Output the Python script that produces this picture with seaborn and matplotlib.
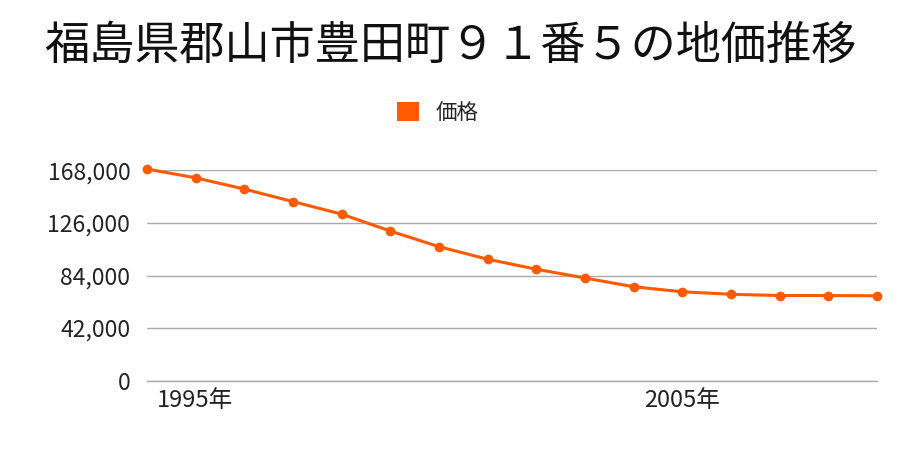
import matplotlib
matplotlib.use("Agg")
import matplotlib.pyplot as plt
import matplotlib.transforms as mtrans
import seaborn as sns
import pandas as pd
from matplotlib.ticker import FuncFormatter
from matplotlib.patches import Patch

title = "福島県郡山市豊田町９１番５の地価推移"
series_name = "価格"
years = [1995, 1996, 1997, 1998, 1999, 2000, 2001, 2002, 2003, 2004,
         2005, 2006, 2007, 2008, 2009, 2010]
prices = [169000, 162000, 153000, 143000, 133000, 119500, 107000, 97000,
          89000, 82000, 75000, 71000, 69000, 68000, 68000, 67800]
y_ticks = [0, 42000, 84000, 126000, 168000]
x_tick_years = [1995, 2005]
x_tick_labels = ["1995年", "2005年"]

sns.set_theme(style="white")
plt.rcParams['font.family'] = ['Noto Sans CJK JP', 'DejaVu Sans']

color = "#FF5A00"
df = pd.DataFrame({"year": years, "price": prices})

fig = plt.figure(figsize=(9, 4.5), dpi=100)
ax = fig.add_axes([147/900, 1 - 380.7/450, (877 - 147)/900, (380.7 - 170.3)/450])

sns.lineplot(data=df, x="year", y="price", ax=ax, color=color, linewidth=2.2,
             marker="o", markersize=7, markeredgewidth=0, clip_on=False, zorder=5)

ax.set_xlim(years[0], years[-1])
ax.set_ylim(0, 168000)
ax.set_yticks(y_ticks)
ax.yaxis.set_major_formatter(FuncFormatter(lambda v, p: f"{int(v):,}"))
ax.grid(axis="y", color="#aaaaaa", linewidth=1)
ax.grid(axis="x", visible=False)
for s in ["top", "right", "left"]:
    ax.spines[s].set_visible(False)
ax.spines["bottom"].set_color("#aaaaaa")
ax.spines["bottom"].set_linewidth(1)

ax.set_xticks(x_tick_years)
ax.set_xticklabels(x_tick_labels, ha="left")
ax.tick_params(axis="x", length=0, pad=6, labelsize=17, colors="#222222")
ax.tick_params(axis="y", length=0, pad=12, labelsize=16.5, colors="#222222")
offset = mtrans.ScaledTranslation(10/100, 0, fig.dpi_scale_trans)
for lbl in ax.get_xticklabels():
    lbl.set_transform(lbl.get_transform() + offset)

ax.set_xlabel("")
ax.set_ylabel("")

fig.text(0.5, 1 - 46/450, title, ha="center", va="center", fontsize=32.5, color="#111111")
handle = Patch(facecolor=color, edgecolor="none")
fig.legend([handle], [series_name], loc="center", bbox_to_anchor=(438/900, 1 - 113/450),
           frameon=False, fontsize=15.5, handlelength=1.0, handleheight=1.0, handletextpad=0.8)

fig.savefig("out.png", dpi=100)
